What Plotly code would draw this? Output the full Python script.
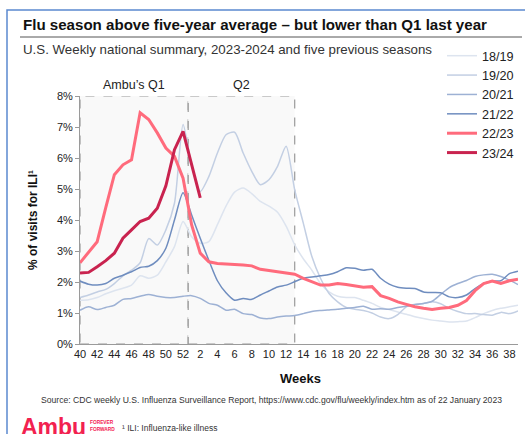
import plotly.graph_objects as go

# ---- data ----
weeks = [str(w) for w in list(range(40, 53)) + list(range(1, 40))]
tick_weeks = [w for i, w in enumerate(weeks) if i % 2 == 0]
y_ticks = [0, 1, 2, 3, 4, 5, 6, 7, 8]
y_tick_labels = ["0%", "1%", "2%", "3%", "4%", "5%", "6%", "7%", "8%"]

s1819 = [1.41, 1.43, 1.50, 1.62, 1.72, 1.80, 1.90, 2.20, 2.12, 2.22, 2.65, 3.14, 3.95, 3.46, 3.25, 3.30,
         3.85, 4.45, 4.90, 5.03, 4.85, 4.60, 4.45, 4.25, 3.80, 3.20, 2.75, 2.38, 1.95, 1.68, 1.54, 1.50,
         1.50, 1.41, 1.31, 1.18, 1.11, 1.03, 0.96, 0.88, 0.82, 0.77, 0.74, 0.71, 0.72, 0.74, 0.85, 0.98,
         1.08, 1.15, 1.20, 1.25]
s1920 = [1.50, 1.58, 1.68, 1.76, 1.95, 2.20, 2.38, 2.62, 3.40, 3.19, 3.68, 4.54, 7.08, 5.75, 4.92, 5.40,
         6.16, 6.75, 6.83, 6.16, 5.57, 5.14, 5.30, 5.73, 6.38, 4.97, 3.90, 2.82, 2.12, 1.63, 1.36, 1.18,
         1.12, 1.08, 1.00, 0.87, 0.82, 0.95, 1.20, 1.28, 1.31, 1.36, 1.30, 1.15, 1.05, 0.98, 0.98, 0.95,
         0.93, 1.02, 0.98, 1.07]
s2021 = [1.09, 1.20, 1.11, 1.18, 1.25, 1.44, 1.47, 1.54, 1.60, 1.54, 1.50, 1.50, 1.54, 1.56, 1.47, 1.31,
         1.25, 1.09, 1.12, 0.98, 0.95, 0.84, 0.82, 0.87, 0.90, 0.92, 0.98, 1.05, 1.08, 1.10, 1.12, 1.15,
         1.18, 1.22, 1.12, 1.14, 1.12, 1.18, 1.22, 1.27, 1.31, 1.38, 1.60, 1.82, 1.95, 2.05, 2.18, 2.23,
         2.25, 2.18, 2.06, 1.92]
s2122 = [2.03, 1.93, 1.90, 1.95, 2.12, 2.22, 2.33, 2.47, 2.51, 2.69, 3.09, 4.00, 4.88, 4.16, 3.41, 2.70,
         2.04, 1.65, 1.41, 1.47, 1.44, 1.58, 1.71, 1.84, 1.90, 2.01, 2.12, 2.16, 2.20, 2.24, 2.33, 2.46,
         2.44, 2.38, 2.41, 2.12, 1.93, 1.83, 1.80, 1.79, 1.68, 1.66, 1.65, 1.52, 1.50, 1.58, 1.79, 1.95,
         2.03, 2.04, 2.27, 2.35]
s2223 = [2.62, 2.95, 3.30, 4.40, 5.46, 5.78, 5.94, 7.46, 7.24, 6.81, 6.32, 6.05, 5.35, 3.84, 2.93, 2.65,
         2.60, 2.58, 2.57, 2.55, 2.52, 2.41, 2.37, 2.33, 2.30, 2.25, 2.12, 2.01, 1.90, 1.90, 1.95, 1.92,
         1.88, 1.83, 1.85, 1.56, 1.47, 1.36, 1.28, 1.20, 1.15, 1.11, 1.15, 1.18, 1.25, 1.40, 1.72, 1.95,
         2.03, 1.95, 2.04, 2.09]
s2324 = [2.29, 2.31, 2.49, 2.69, 2.93, 3.41, 3.68, 3.95, 4.06, 4.38, 5.10, 6.27, 6.86, 5.80, 4.71]

W, H = 525, 434
ML, MR, MT, MB = 80, 7, 96, 90
PW, PH = W - ML - MR, H - MT - MB


def px(x):
    return (x - ML) / PW


def py(y):
    return (H - MB - y) / PH


FONT = "Arial, Liberation Sans, sans-serif"

series = [
    ("18/19", s1819, "#dde4ef", 1.5, "spline"),
    ("19/20", s1920, "#c3cfe3", 1.5, "spline"),
    ("20/21", s2021, "#9db1d4", 1.5, "spline"),
    ("21/22", s2122, "#6f8dbf", 1.5, "spline"),
    ("22/23", s2223, "#ff6b7c", 3, "linear"),
    ("23/24", s2324, "#c9234f", 3, "linear"),
]

fig = go.Figure()
for name, vals, col, wdt, shape in series:
    line = dict(color=col, width=wdt, shape=shape)
    if shape == "spline":
        line["smoothing"] = 0.7
    fig.add_trace(go.Scatter(x=weeks[:len(vals)], y=vals, mode="lines", name=name, line=line))

shapes = [
    # quarter boxes
    dict(type="rect", xref="x", yref="y", x0=0, x1=12.6, y0=0, y1=8, layer="below",
         fillcolor="#f9f9f9", line=dict(color="#9a9a9a", width=1.2, dash="dash")),
    dict(type="rect", xref="x", yref="y", x0=12.6, x1=25, y0=0, y1=8, layer="below",
         fillcolor="#f9f9f9", line=dict(color="#9a9a9a", width=1.2, dash="dash")),
    # title underline
    dict(type="line", xref="paper", yref="paper", x0=px(20), x1=px(522), y0=py(37), y1=py(37),
         line=dict(color="#555555", width=1)),
    # frame
    dict(type="rect", xref="paper", yref="paper", x0=px(7), x1=px(560), y0=py(10), y1=py(470),
         line=dict(color="#5b89cf", width=1.5)),
]

annotations = [
    dict(text="<b>Flu season above five-year average – but lower than Q1 last year</b>",
         x=px(21), y=py(25), xref="paper", yref="paper", xanchor="left", yanchor="middle",
         showarrow=False, font=dict(size=15.1, color="#111111", family=FONT)),
    dict(text="U.S. Weekly national summary, 2023-2024 and five previous seasons",
         x=px(21), y=py(50), xref="paper", yref="paper", xanchor="left", yanchor="middle",
         showarrow=False, font=dict(size=13.3, color="#333333", family=FONT)),
    dict(text="Ambu’s Q1", x=6.3, y=py(85), xref="x", yref="paper", xanchor="center",
         yanchor="middle", showarrow=False, font=dict(size=12.5, color="#222222", family=FONT)),
    dict(text="Q2", x=18.8, y=py(85), xref="x", yref="paper", xanchor="center",
         yanchor="middle", showarrow=False, font=dict(size=12.5, color="#222222", family=FONT)),
    dict(text="<b>% of visits for ILI¹</b>", x=px(33), y=py(220), xref="paper", yref="paper",
         xanchor="center", yanchor="middle", textangle=-90, showarrow=False,
         font=dict(size=12, color="#111111", family=FONT)),
    dict(text="<b>Weeks</b>", x=px(300), y=py(378), xref="paper", yref="paper",
         xanchor="center", yanchor="middle", showarrow=False,
         font=dict(size=13, color="#111111", family=FONT)),
    dict(text="Source: CDC weekly U.S. Influenza Surveillance Report, "
              "https://www.cdc.gov/flu/weekly/index.htm as of 22 January 2023",
         x=px(271), y=py(400), xref="paper", yref="paper", xanchor="center", yanchor="middle",
         showarrow=False, font=dict(size=8.6, color="#333333", family=FONT)),
    dict(text="<b>Ambu</b>", x=px(20), y=py(413), xref="paper", yref="paper", xanchor="left",
         yanchor="top", showarrow=False, borderpad=0,
         font=dict(size=23, color="#f2214f", family=FONT)),
    dict(text="<b>FOREVER</b>", x=px(89), y=py(422), xref="paper", yref="paper",
         xanchor="left", yanchor="middle", showarrow=False, borderpad=0,
         font=dict(size=4.8, color="#f2214f", family=FONT)),
    dict(text="<b>FORWARD</b>", x=px(89), y=py(429), xref="paper", yref="paper",
         xanchor="left", yanchor="middle", showarrow=False, borderpad=0,
         font=dict(size=4.8, color="#f2214f", family=FONT)),
    dict(text="¹ ILI: Influenza-like illness", x=px(120), y=py(428), xref="paper", yref="paper",
         xanchor="left", yanchor="middle", showarrow=False,
         font=dict(size=8.5, color="#333333", family=FONT)),
]

fig.update_layout(
    width=W, height=H,
    margin=dict(l=ML, r=MR, t=MT, b=MB, autoexpand=False),
    paper_bgcolor="white", plot_bgcolor="white",
    font=dict(family=FONT, color="#222222"),
    showlegend=True,
    legend=dict(x=px(442), y=py(41), xanchor="left", yanchor="top",
                bgcolor="rgba(0,0,0,0)", borderwidth=0, tracegroupgap=0,
                font=dict(size=12.6, color="#222222", family=FONT)),
    shapes=shapes,
    annotations=annotations,
    xaxis=dict(type="category", categoryorder="array", categoryarray=weeks,
               range=[0, 51], tickmode="array", tickvals=tick_weeks, ticktext=tick_weeks,
               showgrid=False, zeroline=False, showline=True, linecolor="#9a9a9a",
               linewidth=1, ticks="", tickfont=dict(size=11, color="#222222", family=FONT)),
    yaxis=dict(range=[0, 8], tickmode="array", tickvals=y_ticks, ticktext=y_tick_labels,
               showgrid=False, zeroline=False, showline=True, linecolor="#9a9a9a",
               ticks="outside", ticklen=4, tickcolor="#9a9a9a",
               tickfont=dict(size=11, color="#222222", family=FONT)),
)

fig.write_html("out.html")
